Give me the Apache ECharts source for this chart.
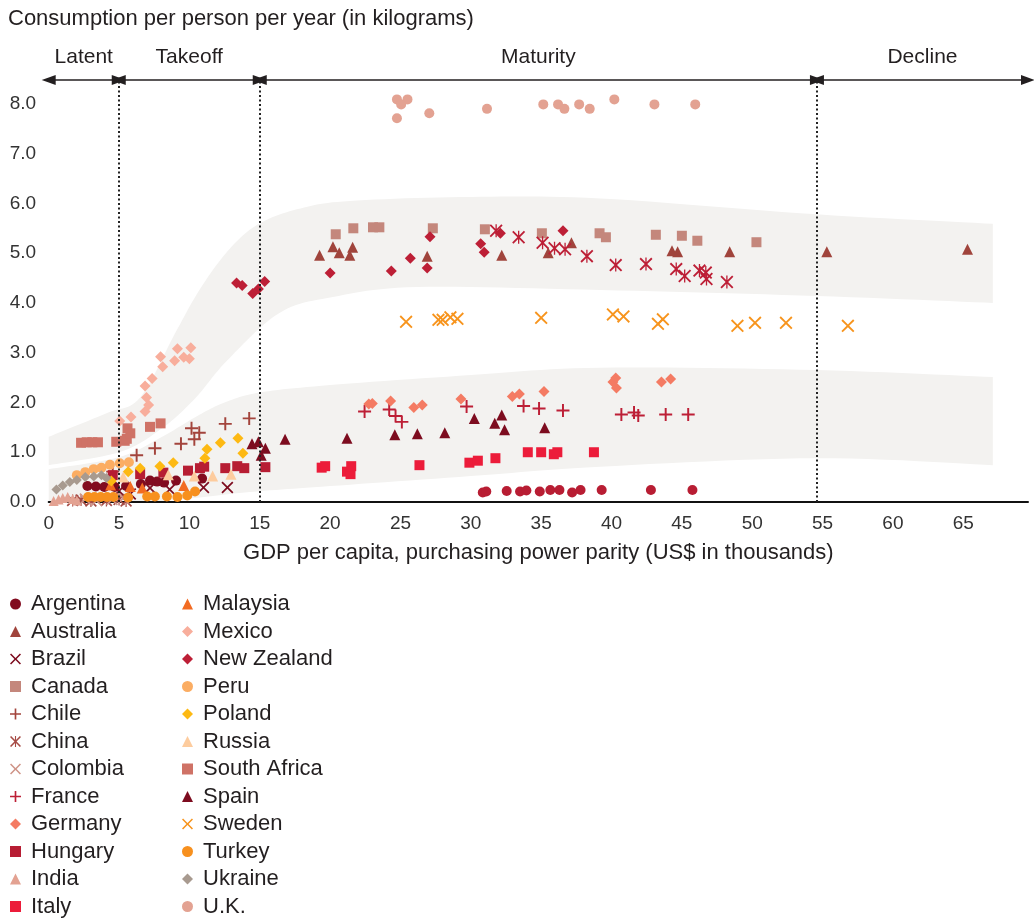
<!DOCTYPE html>
<html>
<head>
<meta charset="utf-8">
<script src="https://cdn.jsdelivr.net/npm/echarts@6/dist/echarts.min.js"></script>
<style>html,body{margin:0;padding:0;background:#fff}#c{width:1034px;height:920px}</style>
</head>
<body>
<div id="c"></div>
<script>
// ---------- DATA (GDP per capita in US$ thousands, kg per person per year) ----------
const argentina = [[2.75,0.32],[3.35,0.31],[3.95,0.30],[4.7,0.30],[5.5,0.32],[6.55,0.36],[7.2,0.43],[7.7,0.41],[8.2,0.39],[9.05,0.43],[10.9,0.47]];
const argentinaHigh = [[30.85,0.19],[31.1,0.21],[32.55,0.22],[33.5,0.21],[33.95,0.23],[34.9,0.21],[35.65,0.24],[36.3,0.24],[37.2,0.19],[37.8,0.24],[39.3,0.24],[42.8,0.24],[45.75,0.24]];
const australia = [[19.25,4.96],[20.2,5.13],[20.65,5.01],[21.4,4.96],[21.6,5.12],[26.9,4.94],[32.2,4.96],[35.5,5.01],[37.15,5.21],[44.3,5.05],[44.7,5.03],[48.4,5.03],[55.3,5.03],[65.3,5.08]];
const brazil = [[5.0,0.22],[5.8,0.16],[7.2,0.28],[8.6,0.25],[11.0,0.29],[12.7,0.29]];
const canada = [[20.4,5.38],[21.65,5.5],[23.05,5.52],[23.5,5.52],[27.3,5.5],[31.0,5.48],[35.05,5.4],[39.15,5.4],[39.6,5.32],[43.15,5.37],[45.0,5.35],[46.1,5.25],[50.3,5.22]];
const chile = [[4.55,0.61],[6.25,0.94],[7.55,1.08],[9.4,1.17],[10.15,1.48],[10.7,1.39],[10.35,1.26],[12.55,1.57],[14.25,1.68]];
const china = [[1.7,0.03],[2.3,0.04],[3.0,0.02],[4.1,0.03],[5.0,0.05],[5.5,0.02]];
const chinaHigh = [[31.8,5.45],[33.4,5.32],[35.1,5.21],[35.95,5.1],[36.7,5.08],[38.25,4.94],[40.3,4.76],[42.45,4.78],[44.6,4.68],[45.2,4.54],[46.25,4.65],[46.7,4.61],[46.75,4.48],[48.2,4.42]];
const colombia = [[2.6,0.06],[3.4,0.03],[4.5,0.05],[5.3,0.08]];
const france = [[22.45,1.82],[24.2,1.86],[24.65,1.73],[25.1,1.61],[29.7,1.92],[33.75,1.93],[34.85,1.88],[36.55,1.84],[40.7,1.76],[41.6,1.8],[41.9,1.74],[43.85,1.76],[45.45,1.76]];
const germany = [[22.75,1.97],[23.0,1.98],[24.3,2.03],[25.95,1.9],[26.55,1.95],[29.3,2.07],[32.95,2.12],[33.45,2.17],[35.2,2.22],[40.1,2.41],[40.3,2.49],[40.35,2.29],[43.55,2.41],[44.2,2.47]];
const hungary = [[4.55,0.54],[6.5,0.56],[8.15,0.59],[9.9,0.63],[10.75,0.68],[11.05,0.71],[12.55,0.68],[13.4,0.72],[13.9,0.68],[15.4,0.70]];
const india = [[0.35,0.02],[0.7,0.05],[1.0,0.08],[1.35,0.1],[1.7,0.06],[2.0,0.03]];
const italy = [[19.4,0.69],[19.65,0.72],[21.2,0.61],[21.45,0.56],[21.5,0.72],[26.35,0.74],[29.9,0.79],[30.5,0.83],[31.75,0.88],[34.05,1.0],[35.0,1.0],[35.9,0.96],[36.15,1.0],[38.75,1.0]];
const malaysia = [[4.4,0.34],[5.8,0.31],[6.65,0.28],[9.6,0.33]];
const mexico = [[5.05,1.63],[5.85,1.71],[6.85,1.82],[7.1,1.95],[6.95,2.1],[6.85,2.33],[7.35,2.48],[8.1,2.72],[8.95,2.84],[9.6,2.91],[10.0,2.88],[7.95,2.92],[9.15,3.08],[10.1,3.1]];
const newZealand = [[13.35,4.4],[13.75,4.35],[14.5,4.19],[14.9,4.28],[15.35,4.43],[20.0,4.6],[24.35,4.64],[25.7,4.9],[26.9,4.7],[27.1,5.33],[30.7,5.19],[30.95,5.02],[32.1,5.4],[36.55,5.45]];
const peru = [[2.0,0.54],[2.6,0.6],[3.2,0.66],[3.75,0.69],[4.35,0.75],[5.05,0.78],[5.7,0.8]];
const poland = [[4.45,0.42],[5.65,0.61],[6.5,0.68],[7.9,0.72],[8.85,0.79],[11.1,0.88],[11.25,1.06],[12.2,1.19],[13.45,1.28],[13.8,0.98]];
const russia = [[5.3,0.5],[8.5,0.55],[10.35,0.52],[11.65,0.52],[12.95,0.56]];
const southAfrica = [[2.3,1.19],[2.7,1.2],[3.1,1.2],[3.5,1.2],[4.8,1.21],[5.4,1.23],[5.55,1.27],[5.6,1.48],[5.8,1.38],[7.2,1.51],[7.95,1.58]];
const spain = [[14.45,1.17],[14.9,1.21],[15.4,1.08],[15.1,0.94],[16.8,1.26],[21.2,1.28],[24.6,1.35],[26.2,1.37],[28.15,1.39],[30.25,1.68],[31.7,1.58],[32.2,1.75],[32.4,1.45],[35.25,1.49]];
const sweden = [[25.4,3.62],[27.7,3.66],[28.0,3.66],[28.55,3.71],[29.05,3.68],[35.0,3.7],[40.1,3.77],[40.85,3.73],[43.3,3.58],[43.65,3.67],[48.95,3.54],[50.2,3.6],[52.4,3.6],[56.8,3.54]];
const turkey = [[2.8,0.1],[3.25,0.1],[3.7,0.1],[4.15,0.1],[4.6,0.1],[5.65,0.09],[7.0,0.11],[7.55,0.11],[8.4,0.11],[9.15,0.1],[9.85,0.13],[10.4,0.21]];
const ukraine = [[0.55,0.25],[1.0,0.33],[1.5,0.4],[2.0,0.44],[2.6,0.5],[3.2,0.51],[3.75,0.54],[4.1,0.48]];
const uk = [[24.75,8.09],[25.5,8.09],[25.05,7.99],[24.75,7.71],[27.05,7.81],[31.15,7.9],[35.15,7.99],[36.2,7.99],[36.65,7.9],[37.7,7.99],[38.45,7.9],[40.2,8.09],[43.05,7.99],[45.95,7.99]];

// life-cycle phases: names and boundaries on the GDP axis
const phaseNames = ['Latent', 'Takeoff', 'Maturity', 'Decline'];
const phaseBounds = [0, 4.98, 15.0, 54.6, 69.6];

// shaded trend bands (edges in data units)
const upperBandTop = [[0,1.31],[4.15,1.79],[6.5,2.1],[9.0,3.4],[10.8,4.3],[12.9,5.1],[15.0,5.6],[17.9,5.9],[21.4,6.05],[30,6.13],[39.2,6.1],[54.6,5.78],[67.1,5.59]];
const upperBandBottom = [[0,0.74],[5,1.0],[7.9,1.45],[10.3,2.05],[12.7,2.85],[16.4,3.8],[20.2,4.12],[26.2,4.32],[39.2,4.26],[54.6,4.14],[67.1,4.0]];
const lowerBandTop = [[0,0.66],[5,0.9],[8,1.3],[10.5,1.72],[12.5,2.0],[15,2.2],[20,2.35],[30,2.55],[39.2,2.7],[54.6,2.65],[67.1,2.51]];
const lowerBandBottom = [[0,0],[7,0],[14.3,0.2],[20,0.32],[30,0.52],[39.2,0.71],[54.6,0.88],[67.1,0.74]];

// ---------- STYLE ----------
const FONT = '"Liberation Sans", Arial, Helvetica, sans-serif';
const TXT = '#231f20';
const SYM = {
  plus: 'path://M8.5,0h3v8.5h8.5v3h-8.5v8.5h-3v-8.5h-8.5v-3h8.5z',
  cross: 'path://M0,2L2,0L10,8L18,0L20,2L12,10L20,18L18,20L10,12L2,20L0,18L8,10Z',
  star: 'path://M9,0h2v20h-2z M0,2L2,0L10,8L18,0L20,2L12,10L20,18L18,20L10,12L2,20L0,18L8,10Z'
};
const seriesDefs = [
  ['Argentina', argentina, 'circle', 10, '#820b1f'],
  ['Argentina', argentinaHigh, 'circle', 10, '#b81d33'],
  ['Australia', australia, 'triangle', 11, '#a0443c'],
  ['Brazil', brazil, SYM.cross, 12, '#7d0c1f'],
  ['Canada', canada, 'rect', 10, '#c4877c'],
  ['Chile', chile, SYM.plus, 13, '#a3443c'],
  ['China', china, SYM.star, 12, '#a64b45'],
  ['China', chinaHigh, SYM.star, 13, '#bd1f36'],
  ['Colombia', colombia, SYM.cross, 12, '#cf9488'],
  ['France', france, SYM.plus, 13, '#bd1f36'],
  ['Germany', germany, 'diamond', 11, '#f47b63'],
  ['Hungary', hungary, 'rect', 10, '#b71d33'],
  ['India', india, 'triangle', 10, '#e3a292'],
  ['Italy', italy, 'rect', 10, '#ec1c3a'],
  ['Malaysia', malaysia, 'triangle', 11, '#f26b22'],
  ['Mexico', mexico, 'diamond', 11, '#f8ae9c'],
  ['New Zealand', newZealand, 'diamond', 11, '#bd1f36'],
  ['Peru', peru, 'circle', 10, '#fbad63'],
  ['Poland', poland, 'diamond', 11, '#fdb913'],
  ['Russia', russia, 'triangle', 11, '#fdcc9e'],
  ['South Africa', southAfrica, 'rect', 10, '#cf7266'],
  ['Spain', spain, 'triangle', 11, '#7d0c1f'],
  ['Sweden', sweden, SYM.cross, 13, '#f7941d'],
  ['Turkey', turkey, 'circle', 10, '#f7901e'],
  ['Ukraine', ukraine, 'diamond', 10, '#a89a8f'],
  ['U.K.', uk, 'circle', 10, '#e3a292']
];
const legendNames = [];
seriesDefs.forEach(d => { if (legendNames.indexOf(d[0]) < 0) legendNames.push(d[0]); });

function spline(pts, seg) {
  const out = [];
  for (let i = 0; i < pts.length - 1; i++) {
    const p0 = pts[Math.max(0, i - 1)], p1 = pts[i], p2 = pts[i + 1], p3 = pts[Math.min(pts.length - 1, i + 2)];
    for (let s = 0; s < seg; s++) {
      const t = s / seg, t2 = t * t, t3 = t2 * t;
      const f = k => 0.5 * ((2 * p1[k]) + (-p0[k] + p2[k]) * t + (2 * p0[k] - 5 * p1[k] + 4 * p2[k] - p3[k]) * t2 + (-p0[k] + 3 * p1[k] - 3 * p2[k] + p3[k]) * t3);
      out.push([f(0), f(1)]);
    }
  }
  out.push(pts[pts.length - 1]);
  return out;
}
const bands = [[upperBandTop, upperBandBottom], [lowerBandTop, lowerBandBottom]];

const series = [];
series.push({
  type: 'custom', name: 'bands', silent: true, clip: true, z: 0,
  data: [[0, 0], [1, 0]],
  renderItem: function (params, api) {
    const b = bands[params.dataIndex];
    const top = spline(b[0].map(p => api.coord(p)), 12);
    const bot = spline(b[1].map(p => api.coord(p)), 12).reverse();
    return { type: 'polygon', shape: { points: top.concat(bot) }, style: { fill: '#f3f2f0' }, silent: true };
  }
});
// phase markers
const arrowData = [], dotData = [];
for (let i = 0; i < phaseNames.length; i++) {
  arrowData.push([{ coord: [phaseBounds[i], 8.48], name: phaseNames[i] }, { coord: [phaseBounds[i + 1], 8.48] }]);
}
for (let i = 1; i < phaseBounds.length - 1; i++) {
  dotData.push([{ coord: [phaseBounds[i], 0] }, { coord: [phaseBounds[i], 8.48] }]);
}
series.push({
  type: 'scatter', name: 'phases', data: [], silent: true, z: 1,
  markLine: {
    silent: true, animation: false, symbol: ['triangle', 'triangle'], symbolSize: [10, 14],
    lineStyle: { color: TXT, width: 1.5, type: 'solid' },
    label: { show: true, position: 'middle', formatter: '{b}', distance: 12, color: TXT, fontSize: 21, fontFamily: FONT },
    emphasis: { disabled: true },
    data: arrowData
  }
});
series.push({
  type: 'scatter', name: 'dividers', data: [], silent: true, z: 1,
  markLine: {
    silent: true, animation: false, symbol: ['none', 'none'],
    lineStyle: { color: '#222', width: 2, type: [2, 2.5] },
    label: { show: false }, emphasis: { disabled: true },
    data: dotData
  }
});
seriesDefs.forEach(d => {
  series.push({
    type: 'scatter', name: d[0], data: d[1], symbol: d[2], symbolSize: d[3],
    itemStyle: { color: d[4], opacity: 1 }, z: 3, animation: false
  });
});

const legendBase = {
  orient: 'vertical', itemWidth: 11, itemHeight: 11, itemGap: 5.5, selectedMode: false, padding: 0,
  height: 330,
  textStyle: { fontSize: 22, lineHeight: 22, color: TXT, fontFamily: FONT, padding: [0, 0, 0, 5] }
};

const chart = echarts.init(document.getElementById('c'));
chart.setOption({
  animation: false,
  backgroundColor: '#fff',
  title: { text: 'Consumption per person per year (in kilograms)', left: 8, top: 8, padding: 0,
    textStyle: { fontSize: 22, fontWeight: 'normal', color: TXT, fontFamily: FONT } },
  grid: { left: 48.7, right: 6, top: 79, bottom: 418, containLabel: false },
  legend: [
    Object.assign({}, legendBase, { left: 10, top: 593, data: legendNames.slice(0, 12) }),
    Object.assign({}, legendBase, { left: 182, top: 593, data: legendNames.slice(12) })
  ],
  xAxis: {
    type: 'value', min: 0, max: 69.6, interval: 5,
    name: 'GDP per capita, purchasing power parity (US$ in thousands)',
    nameLocation: 'middle', nameGap: 40,
    nameTextStyle: { fontSize: 22, color: TXT, fontFamily: FONT },
    axisLine: { show: true, onZero: false, lineStyle: { color: '#111', width: 2 } },
    axisTick: { show: false }, splitLine: { show: false },
    axisLabel: { fontSize: 19, color: '#333', fontFamily: FONT, margin: 12, showMaxLabel: false,
      formatter: v => (Math.abs(v % 5) < 1e-9 && v <= 65) ? String(v) : '' }
  },
  yAxis: {
    type: 'value', min: 0, max: 8.5, interval: 0.5,
    axisLine: { show: false }, axisTick: { show: false }, splitLine: { show: false },
    axisLabel: { fontSize: 19, color: '#333', fontFamily: FONT, align: 'left', margin: 39, showMaxLabel: false,
      formatter: v => (Math.abs(v - Math.round(v)) < 1e-9 && v <= 8) ? v.toFixed(1) : '' }
  },
  series: series
});
</script>
</body>
</html>
